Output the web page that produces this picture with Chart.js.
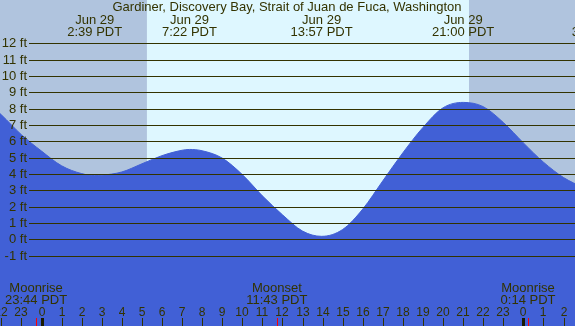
<!DOCTYPE html>
<html lang="en">
<head>
    <meta charset="UTF-8">
    <title>Gardiner, Discovery Bay tide chart</title>
    <script src="https://cdn.jsdelivr.net/npm/chart.js"></script>
    <style>
        body { margin: 0; background: #fff; }
        #wrap { width: 575px; height: 326px; position: relative; }
    </style>
</head>
<body>
    <div id="wrap">
        <canvas id="tideChart"></canvas>
    </div>

    <script>
        // tide height (ft), by hour of Jun 29 (negative = Jun 28, >24 = Jun 30)
        const tideHours = [-3, -2, -1, 0, 1, 2, 2.65, 3, 4, 5, 6, 7, 7.37, 8, 9, 10, 11, 12, 13, 13.95, 15, 16, 17, 18, 19, 20, 21, 22, 23, 24, 25, 26, 27];
        const tideFeet  = [8.7, 7.62, 6.4, 5.4, 4.5, 4.02, 3.9, 3.92, 4.12, 4.62, 5.12, 5.45, 5.5, 5.42, 4.97, 3.96, 2.66, 1.5, 0.5, 0.18, 0.6, 1.85, 3.58, 5.3, 6.85, 8.05, 8.38, 8.12, 7.15, 5.9, 4.72, 3.78, 3.15];

        // high / low labels along the top
        const extremeHours = [2.65, 7.37, 13.95, 21.0, 27.77];
        const extremeDates = ['Jun 29', 'Jun 29', 'Jun 29', 'Jun 29', 'Jun 30'];
        const extremeTimes = ['2:39 PDT', '7:22 PDT', '13:57 PDT', '21:00 PDT', '3:46 PDT'];

        // sunrise / sunset -> daylight band
        const sunHours = [5.25, 21.29];

        // moon events
        const moonHours = [-0.27, 11.72, 24.23];
        const moonNames = ['Moonrise', 'Moonset', 'Moonrise'];
        const moonTimes = ['23:44 PDT', '11:43 PDT', '0:14 PDT'];

        const feetTicks = [12, 11, 10, 9, 8, 7, 6, 5, 4, 3, 2, 1, 0, -1];
        const hourTicks = [-2, -1, 0, 1, 2, 3, 4, 5, 6, 7, 8, 9, 10, 11, 12, 13, 14, 15, 16, 17, 18, 19, 20, 21, 22, 23, 24, 25, 26];

        const title = 'Gardiner, Discovery Bay, Strait of Juan de Fuca, Washington';

        const txtColor = '#333300';
        const font = '13px "Liberation Sans", Arial, sans-serif';
        const hourFont = '12px "Liberation Sans", Arial, sans-serif';

        const backdrop = {
            id: 'backdrop',
            beforeDraw(chart) {
                const c = chart.ctx, x = chart.scales.x;
                c.save();
                c.fillStyle = '#b0c4de';
                c.fillRect(0, 0, chart.width, chart.height);
                const x1 = x.getPixelForValue(sunHours[0]);
                const x2 = x.getPixelForValue(sunHours[1]);
                c.fillStyle = 'rgb(222,247,255)';
                c.fillRect(x1, 0, x2 - x1, chart.height);
                c.restore();
            }
        };

        const overlay = {
            id: 'overlay',
            afterDatasetsDraw(chart) {
                const c = chart.ctx, x = chart.scales.x, y = chart.scales.y;
                c.save();
                c.font = font;
                c.fillStyle = txtColor;
                c.strokeStyle = txtColor;
                c.lineWidth = 1;

                // horizontal grid + feet labels
                feetTicks.forEach(f => {
                    const py = Math.round(y.getPixelForValue(f)) + 0.5;
                    c.beginPath();
                    c.moveTo(29, py);
                    c.lineTo(chart.width, py);
                    c.stroke();
                    c.textAlign = 'right';
                    c.textBaseline = 'middle';
                    c.fillText(f + ' ft', 27, py);
                });

                // title
                c.textAlign = 'center';
                c.textBaseline = 'alphabetic';
                c.fillText(title, 287, 11);

                // tide extremes
                extremeHours.forEach((h, i) => {
                    const px = x.getPixelForValue(h);
                    c.fillText(extremeDates[i], px, 24);
                    c.fillText(extremeTimes[i], px, 36);
                });

                // moon labels
                moonHours.forEach((h, i) => {
                    const px = x.getPixelForValue(h);
                    c.fillText(moonNames[i], px, 292);
                    c.fillText(moonTimes[i], px, 304);
                });

                // hour ticks
                c.font = hourFont;
                hourTicks.forEach(h => {
                    const px = Math.round(x.getPixelForValue(h));
                    c.fillStyle = txtColor;
                    c.fillText(String(((h % 24) + 24) % 24), px, 316);
                    if (h % 24 === 0) {
                        c.fillStyle = '#1a1a00';
                        c.fillRect(px - 1, 318, 3, 8);
                    } else {
                        c.fillRect(px, 318, 1, 8);
                    }
                });

                // moon event marks
                c.fillStyle = 'red';
                moonHours.forEach(h => {
                    const px = Math.round(x.getPixelForValue(h));
                    c.fillRect(px, 318, 1, 8);
                });
                c.restore();
            }
        };

        const ctx = document.getElementById('tideChart').getContext('2d');
        const tideChart = new Chart(ctx, {
            type: 'line',
            data: {
                datasets: [{
                    label: 'Tide',
                    data: tideHours.map((h, i) => ({ x: h, y: tideFeet[i] })),
                    backgroundColor: 'rgb(65,96,214)',
                    borderColor: 'rgb(65,96,214)',
                    borderWidth: 1,
                    pointRadius: 0,
                    fill: 'start',
                    cubicInterpolationMode: 'monotone'
                }]
            },
            options: {
                responsive: true,
                maintainAspectRatio: false,
                animation: false,
                devicePixelRatio: 1,
                layout: { padding: 0 },
                scales: {
                    x: { type: 'linear', min: -2.067, max: 26.57, display: false },
                    y: { type: 'linear', min: -5.31, max: 14.65, display: false }
                },
                plugins: {
                    legend: { display: false },
                    tooltip: { enabled: false }
                }
            },
            plugins: [backdrop, overlay]
        });
    </script>
</body>
</html>
